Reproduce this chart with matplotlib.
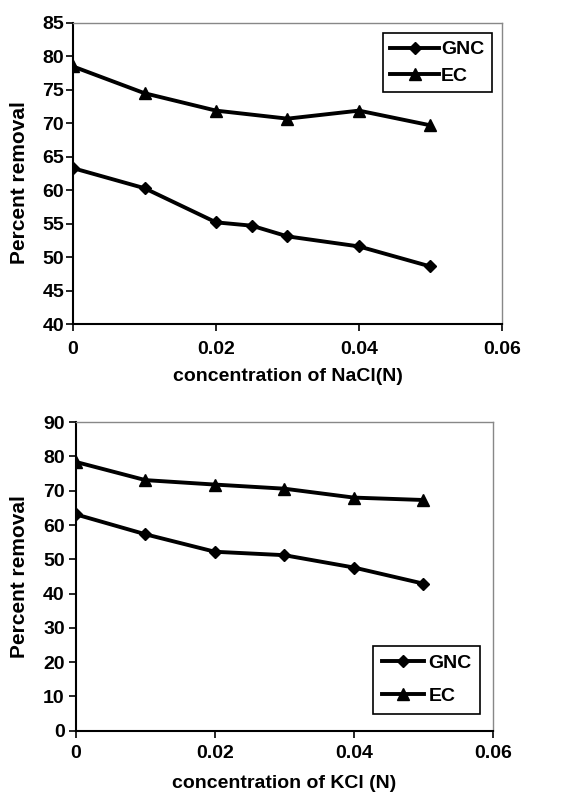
import matplotlib
matplotlib.use("Agg")
import matplotlib.pyplot as plt

plt.rcParams["font.family"] = ["Liberation Sans", "DejaVu Sans"]
plt.rcParams["font.weight"] = "bold"

# NaCl panel
nacl_gnc_x = [0, 0.01, 0.02, 0.025, 0.03, 0.04, 0.05]
nacl_gnc_y = [63.3, 60.3, 55.2, 54.7, 53.1, 51.6, 48.6]
nacl_ec_x = [0, 0.01, 0.02, 0.03, 0.04, 0.05]
nacl_ec_y = [78.5, 74.5, 71.9, 70.7, 71.9, 69.7]

# KCl panel
kcl_x = [0, 0.01, 0.02, 0.03, 0.04, 0.05]
kcl_gnc_y = [63.1, 57.3, 52.2, 51.2, 47.6, 42.9]
kcl_ec_y = [78.4, 73.1, 71.8, 70.6, 68.0, 67.3]

x_ticks = [0, 0.02, 0.04, 0.06]
x_tick_labels = ["0", "0.02", "0.04", "0.06"]

FS = 14


def style_axes(ax, xpad, ypad):
    for side in ("top", "right"):
        ax.spines[side].set_color("#888888")
        ax.spines[side].set_linewidth(1.0)
    for side in ("left", "bottom"):
        ax.spines[side].set_color("black")
        ax.spines[side].set_linewidth(1.5)
    ax.tick_params(direction="out", length=5, width=1.2, labelsize=FS,
                   top=False, right=False)
    ax.tick_params(axis="x", pad=xpad)
    ax.tick_params(axis="y", pad=ypad)
    ax.set_xticks(x_ticks)
    ax.set_xticklabels(x_tick_labels)
    ax.set_xlim(0, 0.06)
    for lab in ax.get_xticklabels() + ax.get_yticklabels():
        lab.set_fontweight("bold")


def draw_panel(ax, gx, gy, ex, ey):
    ax.plot(gx, gy, color="black", lw=2.8, marker="D", ms=6.5, label="GNC")
    ax.plot(ex, ey, color="black", lw=2.8, marker="^", ms=8.5, label="EC")


fig = plt.figure(figsize=(5.71, 7.93), dpi=100)

ax1 = fig.add_axes([0.128, 0.5914, 0.751, 0.3796])
draw_panel(ax1, nacl_gnc_x, nacl_gnc_y, nacl_ec_x, nacl_ec_y)
ax1.set_ylim(40, 85)
ax1.set_yticks(range(40, 86, 5))
style_axes(ax1, xpad=7, ypad=1.5)
ax1.set_xlabel("concentration of NaCl(N)", fontsize=FS, fontweight="bold")
ax1.set_ylabel("Percent removal", fontsize=15, fontweight="bold")
ax1.xaxis.set_label_coords(0.5, -0.146)
ax1.yaxis.set_label_coords(-0.103, 0.47)
leg1 = ax1.legend(loc="upper right", bbox_to_anchor=(0.977, 0.967), borderaxespad=0,
                  fontsize=FS, handlelength=2.5, handletextpad=0.1, borderpad=0.4,
                  labelspacing=0.45, fancybox=False, framealpha=1, edgecolor="black")
leg1.get_frame().set_linewidth(1.2)

ax2 = fig.add_axes([0.133, 0.0786, 0.730, 0.389])
draw_panel(ax2, kcl_x, kcl_gnc_y, kcl_x, kcl_ec_y)
ax2.set_ylim(0, 90)
ax2.set_yticks(range(0, 91, 10))
style_axes(ax2, xpad=5.5, ypad=3)
ax2.set_xlabel("concentration of KCl (N)", fontsize=FS, fontweight="bold")
ax2.set_ylabel("Percent removal", fontsize=15, fontweight="bold")
ax2.xaxis.set_label_coords(0.5, -0.143)
ax2.yaxis.set_label_coords(-0.113, 0.5)
leg2 = ax2.legend(loc="lower right", bbox_to_anchor=(0.970, 0.054), borderaxespad=0,
                  fontsize=FS, handlelength=2.2, handletextpad=0.2, borderpad=0.45,
                  labelspacing=0.8, fancybox=False, framealpha=1, edgecolor="black")
leg2.get_frame().set_linewidth(1.2)

fig.savefig("out.png", dpi=100)
